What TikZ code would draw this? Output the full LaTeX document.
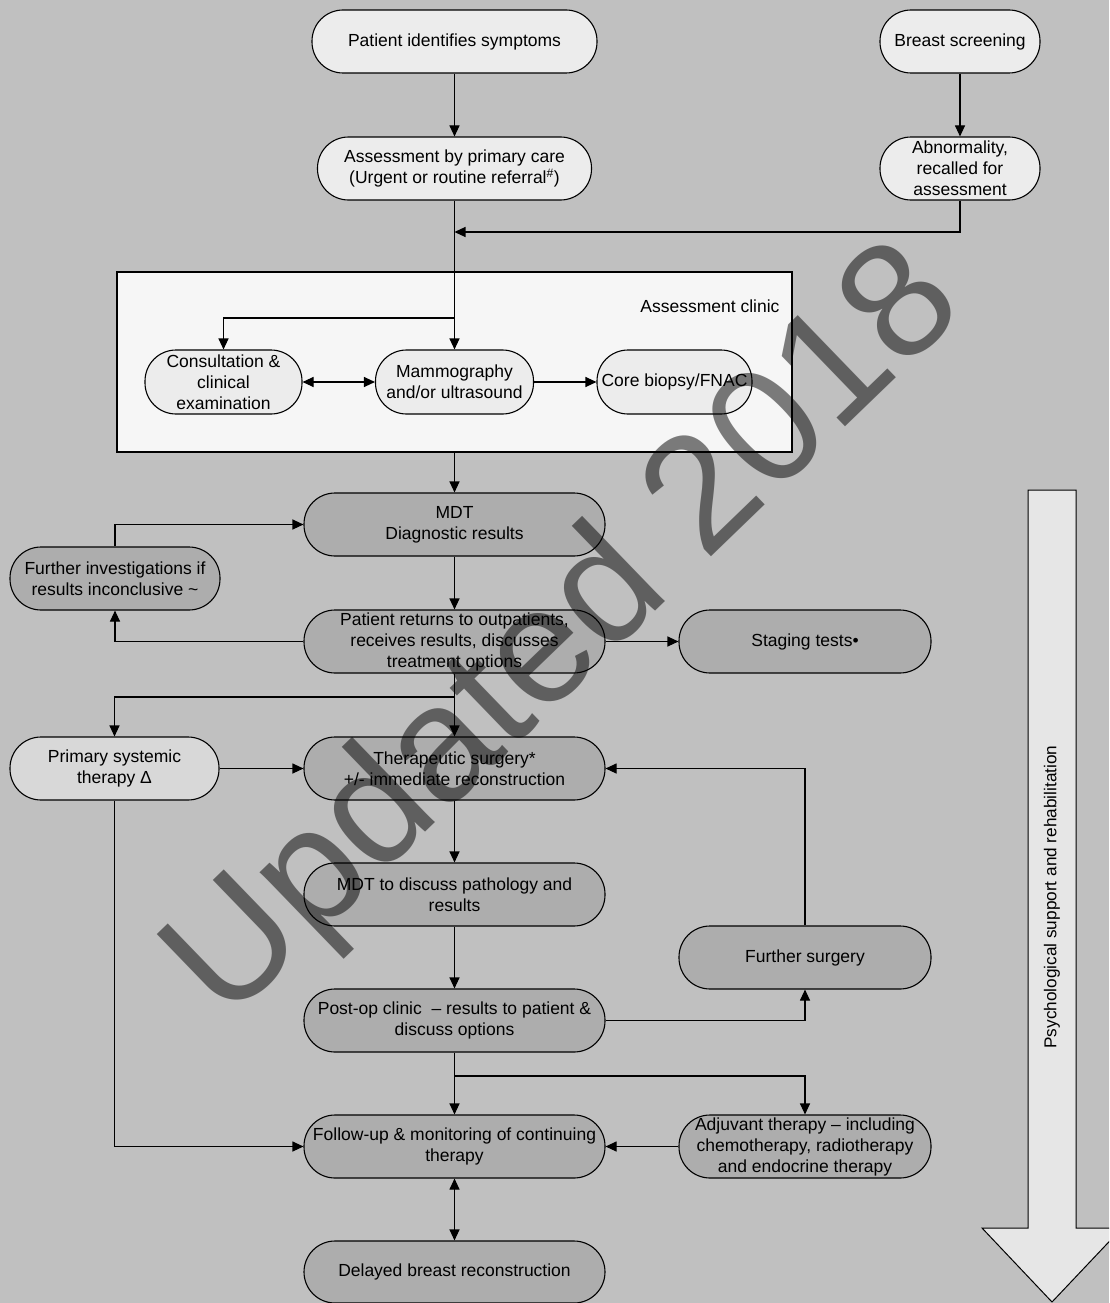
\documentclass[tikz,border=0pt]{standalone}
\usepackage{fontspec}
\setmainfont{Liberation Sans}
\usetikzlibrary{arrows.meta}
\definecolor{bgcol}{HTML}{C0C0C0}
\definecolor{lightfill}{HTML}{ECECEC}
\definecolor{darkfill}{HTML}{ADADAD}
\definecolor{midfill}{HTML}{D8D8D8}
\definecolor{clinicfill}{HTML}{F6F6F6}
\definecolor{arrowfill}{HTML}{E6E6E6}
\begin{document}
\begin{tikzpicture}[x=1pt,y=-1pt,
  every node/.style={font=\fontsize{17.5}{21}\selectfont},
  box/.style={draw=black, line width=1.1pt, rounded corners=31pt, minimum height=63pt, align=center, inner sep=0pt},
  lightbox/.style={box, fill=lightfill},
  darkbox/.style={box, fill=darkfill},
  midbox/.style={box, fill=midfill},
  conn/.style={line width=1.1pt, -{Triangle[length=11pt,width=10pt]}},
  biconn/.style={line width=1.1pt, {Triangle[length=11pt,width=10pt]}-{Triangle[length=11pt,width=10pt]}},
]
\useasboundingbox (0,0) rectangle (1109,1303);
\clip (0,0) rectangle (1109,1303);
\fill[bgcol] (0,0) rectangle (1109,1303);

% top nodes
\node[lightbox, minimum width=285pt] (p1) at (454.5,41.5) {Patient identifies symptoms};
\node[lightbox, minimum width=160pt] (bs) at (960,41.5) {Breast screening};
\node[lightbox, minimum width=274pt] (ap) at (454.5,168.5) {Assessment by primary care\\(Urgent or routine referral\textsuperscript{\#})};
\node[lightbox, minimum width=160pt] (ab) at (960,168.5) {Abnormality,\\recalled for\\assessment};

% assessment clinic
\node[draw=black, line width=1.1pt, fill=clinicfill, minimum width=675pt, minimum height=180pt, inner sep=0pt] (clinic) at (454.5,362) {};
\node[anchor=base east] (cliniclbl) at (783,312) {Assessment clinic};
\node[lightbox, minimum width=157pt, minimum height=64pt] (cons) at (223.5,382) {Consultation \&\\clinical\\examination};
\node[lightbox, minimum width=158pt, minimum height=64pt] (mam) at (454.5,382) {Mammography\\and/or ultrasound};
\node[lightbox, minimum width=155pt, minimum height=64pt] (core) at (674.5,382) {Core biopsy/FNAC};

% lower nodes
\node[darkbox, minimum width=301pt] (mdt) at (454.5,524.5) {MDT\\Diagnostic results};
\node[darkbox, minimum width=210pt] (fi) at (115,578.5) {Further investigations if\\results inconclusive \textasciitilde};
\node[darkbox, minimum width=301pt] (pr) at (454.5,641.5) {Patient returns to outpatients,\\receives results, discusses\\treatment options};
\node[darkbox, minimum width=252pt] (st) at (805,641.5) {Staging tests•};
\node[midbox, minimum width=209pt] (pst) at (114.5,768.5) {Primary systemic\\therapy Δ};
\node[darkbox, minimum width=301pt] (ts) at (454.5,768.5) {Therapeutic surgery*\\+/- immediate reconstruction};
\node[darkbox, minimum width=301pt] (mdt2) at (454.5,894.5) {MDT to discuss pathology and\\results};
\node[darkbox, minimum width=252pt] (fs) at (805,957.5) {Further surgery};
\node[darkbox, minimum width=301pt] (po) at (454.5,1020.5) {Post-op clinic \ -- results to patient \&\\discuss options};
\node[darkbox, minimum width=301pt] (fu) at (454.5,1146.5) {Follow-up \& monitoring of continuing\\therapy};
\node[darkbox, minimum width=252pt] (adj) at (805,1146.5) {Adjuvant therapy -- including\\chemotherapy, radiotherapy\\and endocrine therapy};
\node[darkbox, minimum width=301pt, minimum height=62pt] (dbr) at (454.5,1272) {Delayed breast reconstruction};

% junction coordinates
\coordinate (j1) at (454.5,232);
\coordinate (j2) at (454.5,318);
\coordinate (j3) at (454.5,697);
\coordinate (j4) at (454.5,1076);

% connectors
\draw[conn] (p1) -- (ap);
\draw[conn] (bs) -- (ab);
\draw[conn] (ab.south) |- (j1);
\draw[conn] (ap.south) -- (mam.north);
\draw[conn] (j2) -| (cons.north);
\draw[biconn] (cons) -- (mam);
\draw[conn] (mam) -- (core);
\draw[conn] (clinic.south) -- (mdt.north);
\draw[conn] (mdt) -- (pr);
\draw[conn] (pr.west) -| (fi.south);
\draw[conn] (fi.north) |- (mdt.west);
\draw[conn] (pr.east) -- (st.west);
\draw[conn] (pr.south) -- (ts.north);
\draw[conn] (j3) -| (pst.north);
\draw[conn] (pst) -- (ts);
\draw[conn] (pst.south) |- (fu.west);
\draw[conn] (ts) -- (mdt2);
\draw[conn] (mdt2) -- (po);
\draw[conn] (po.east) -| (fs.south);
\draw[conn] (fs.north) |- (ts.east);
\draw[conn] (po) -- (fu);
\draw[conn] (j4) -| (adj.north);
\draw[conn] (adj) -- (fu);
\draw[biconn] (fu) -- (dbr);

% big arrow
\draw[fill=arrowfill, line width=1pt] (1028,490) -- (1076,490) -- (1076,1228) -- (1122,1228) -- (1052,1302) -- (982,1228) -- (1028,1228) -- cycle;
\node[rotate=90, font=\fontsize{17.2}{20}\selectfont] (psr) at (1052,897) {Psychological support and rehabilitation};

% watermark
\node[rotate=44, text=black, text opacity=0.5, font=\fontsize{164}{164}\selectfont] (wm) at (568,636) {Updated 2018};
\end{tikzpicture}
\end{document}
